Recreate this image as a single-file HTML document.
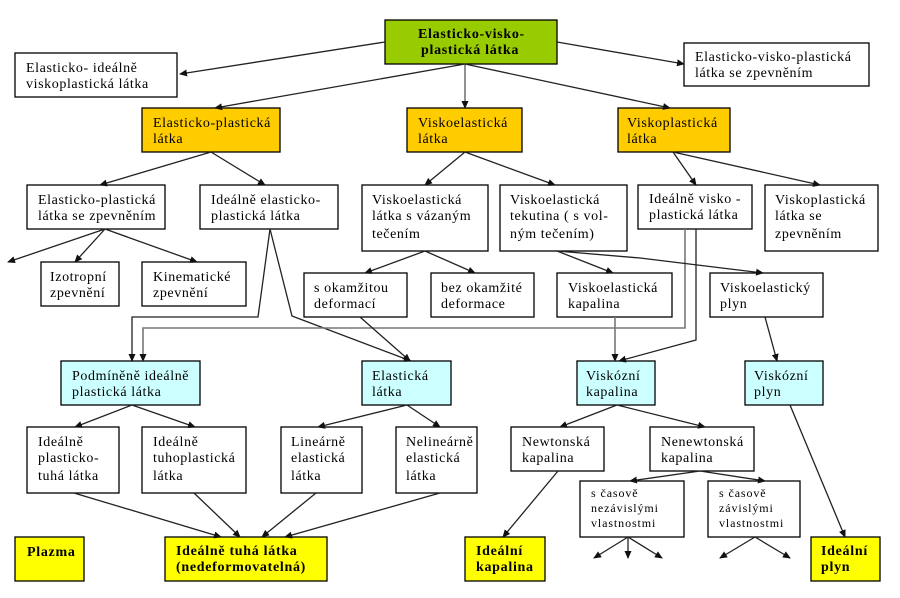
<!DOCTYPE html>
<html><head><meta charset="utf-8"><style>
body{margin:0;background:#fff;}
svg{display:block}
text{font-family:"Liberation Serif",serif;font-size:14px;letter-spacing:0.6px;fill:#000}
.b{font-weight:bold;letter-spacing:0.7px}
.s{font-size:12px;letter-spacing:0.9px}
rect{stroke:#000;stroke-width:1.3}
line,polyline{stroke:#222;stroke-width:1.3;fill:none}
.g{stroke:#777;stroke-width:1.6}
</style></head><body>
<svg width="900" height="598" viewBox="0 0 900 598">
<defs><marker id="a" markerWidth="8" markerHeight="8" refX="7" refY="4" orient="auto" markerUnits="userSpaceOnUse"><path d="M0,0.5 L8,4 L0,7.5z" fill="#111"/></marker></defs>
<g fill="#fff">
<rect x="385" y="20" width="172" height="44" fill="#99cc00"/>
<rect x="15" y="53" width="162" height="44" fill="#fff"/>
<rect x="684" y="43" width="185" height="43" fill="#fff"/>
<rect x="142" y="108" width="138" height="44" fill="#ffcc00"/>
<rect x="407" y="108" width="115" height="44" fill="#ffcc00"/>
<rect x="618" y="108" width="112" height="44" fill="#ffcc00"/>
<rect x="27" y="185" width="138" height="44" fill="#fff"/>
<rect x="200" y="185" width="138" height="44" fill="#fff"/>
<rect x="362" y="185" width="126" height="66" fill="#fff"/>
<rect x="500" y="185" width="127" height="66" fill="#fff"/>
<rect x="638" y="185" width="114" height="44" fill="#fff"/>
<rect x="765" y="185" width="113" height="66" fill="#fff"/>
<rect x="41" y="262" width="78" height="44" fill="#fff"/>
<rect x="142" y="262" width="104" height="44" fill="#fff"/>
<rect x="304" y="273" width="103" height="44" fill="#fff"/>
<rect x="431" y="273" width="103" height="44" fill="#fff"/>
<rect x="557" y="273" width="115" height="44" fill="#fff"/>
<rect x="710" y="273" width="113" height="44" fill="#fff"/>
<rect x="61" y="361" width="139" height="44" fill="#ccffff"/>
<rect x="362" y="361" width="89" height="44" fill="#ccffff"/>
<rect x="577" y="361" width="78" height="44" fill="#ccffff"/>
<rect x="745" y="361" width="78" height="44" fill="#ccffff"/>
<rect x="27" y="427" width="92" height="66" fill="#fff"/>
<rect x="142" y="427" width="104" height="66" fill="#fff"/>
<rect x="281" y="427" width="81" height="66" fill="#fff"/>
<rect x="396" y="427" width="81" height="66" fill="#fff"/>
<rect x="511" y="427" width="93" height="44" fill="#fff"/>
<rect x="650" y="427" width="104" height="44" fill="#fff"/>
<rect x="580" y="481" width="104" height="56" fill="#fff"/>
<rect x="708" y="481" width="92" height="56" fill="#fff"/>
<rect x="15" y="537" width="69" height="44" fill="#ffff00"/>
<rect x="165" y="537" width="162" height="44" fill="#ffff00"/>
<rect x="465" y="537" width="80" height="44" fill="#ffff00"/>
<rect x="811" y="537" width="69" height="44" fill="#ffff00"/>
</g>
<g marker-end="url(#a)">
<line class="g" x1="465" y1="64" x2="465" y2="108"/>
<line x1="385" y1="42" x2="180" y2="74"/>
<line x1="465" y1="64" x2="215" y2="108"/>
<line x1="557" y1="42" x2="684" y2="64"/>
<line x1="465" y1="64" x2="670" y2="108"/>
<line x1="211" y1="152" x2="100" y2="185"/>
<line x1="211" y1="152" x2="265" y2="185"/>
<line x1="465" y1="152" x2="425" y2="185"/>
<line x1="465" y1="152" x2="555" y2="185"/>
<line x1="673" y1="152" x2="696" y2="185"/>
<line x1="673" y1="152" x2="820" y2="185"/>
<line x1="105" y1="229" x2="8" y2="262"/>
<line x1="105" y1="229" x2="75" y2="262"/>
<line x1="105" y1="229" x2="197" y2="262"/>
<polyline points="270,229 258,317 132,317 132,361"/>
<polyline points="270,229 292,316 411,361"/>
<polyline class="g" points="685,229 685,328 143,328 143,361"/>
<polyline points="696,229 696,340 619,361"/>
<line x1="360" y1="317" x2="410" y2="361"/>
<line x1="425" y1="251" x2="365" y2="273"/>
<line x1="425" y1="251" x2="475" y2="273"/>
<line x1="557" y1="251" x2="613" y2="273"/>
<polyline points="557,251 640,258 763,273"/>
<line class="g" x1="615" y1="317" x2="615" y2="361"/>
<line x1="765" y1="317" x2="777" y2="361"/>
<line x1="132" y1="405" x2="75" y2="427"/>
<line x1="132" y1="405" x2="195" y2="427"/>
<line x1="407" y1="405" x2="318" y2="427"/>
<line x1="407" y1="405" x2="440" y2="427"/>
<line x1="617" y1="405" x2="560" y2="427"/>
<line x1="617" y1="405" x2="705" y2="427"/>
<line x1="790" y1="405" x2="845" y2="537"/>
<line x1="558" y1="471" x2="503" y2="537"/>
<line x1="700" y1="471" x2="630" y2="481"/>
<line x1="700" y1="471" x2="765" y2="481"/>
<line x1="628" y1="537" x2="594" y2="558"/>
<line x1="628" y1="537" x2="628" y2="558"/>
<line x1="628" y1="537" x2="662" y2="558"/>
<line x1="755" y1="537" x2="720" y2="558"/>
<line x1="755" y1="537" x2="790" y2="558"/>
<line x1="74" y1="493" x2="221" y2="537"/>
<line x1="194" y1="493" x2="240" y2="537"/>
<line x1="316" y1="493" x2="262" y2="537"/>
<line x1="440" y1="493" x2="285" y2="537"/>
</g>
<text class="b" x="418" y="38">Elasticko-visko-</text><text class="b" x="421" y="54">plastická látka</text>
<text x="26" y="72">Elasticko- ideálně</text><text x="26" y="88">viskoplastická látka</text>
<text x="695" y="61">Elasticko-visko-plastická</text><text x="695" y="77">látka se zpevněním</text>
<text x="153" y="127">Elasticko-plastická</text><text x="153" y="143">látka</text>
<text x="418" y="127">Viskoelastická</text><text x="418" y="143">látka</text>
<text x="627" y="127">Viskoplastická</text><text x="627" y="143">látka</text>
<text x="38" y="204">Elasticko-plastická</text><text x="38" y="220">látka se zpevněním</text>
<text x="211" y="204">Ideálně elasticko-</text><text x="211" y="220">plastická látka</text>
<text x="372" y="204">Viskoelastická</text><text x="372" y="220">látka s vázaným</text><text x="372" y="238">tečením</text>
<text x="510" y="204">Viskoelastická</text><text x="510" y="220">tekutina ( s vol-</text><text x="510" y="238">ným tečením)</text>
<text x="649" y="203">Ideálně visko -</text><text x="649" y="219">plastická látka</text>
<text x="775" y="204">Viskoplastická</text><text x="775" y="220">látka se</text><text x="775" y="238">zpevněním</text>
<text x="50" y="281">Izotropní</text><text x="50" y="297">zpevnění</text>
<text x="153" y="281">Kinematické</text><text x="153" y="297">zpevnění</text>
<text x="314" y="292">s okamžitou</text><text x="314" y="308">deformací</text>
<text x="441" y="292">bez okamžité</text><text x="441" y="308">deformace</text>
<text x="568" y="292">Viskoelastická</text><text x="568" y="308">kapalina</text>
<text x="720" y="292">Viskoelastický</text><text x="720" y="308">plyn</text>
<text x="72" y="380">Podmíněně ideálně</text><text x="72" y="396">plastická látka</text>
<text x="372" y="380">Elastická</text><text x="372" y="396">látka</text>
<text x="586" y="380">Viskózní</text><text x="586" y="396">kapalina</text>
<text x="754" y="380">Viskózní</text><text x="754" y="396">plyn</text>
<text x="38" y="446">Ideálně</text><text x="38" y="462">plasticko-</text><text x="38" y="480">tuhá látka</text>
<text x="153" y="446">Ideálně</text><text x="153" y="462">tuhoplastická</text><text x="153" y="480">látka</text>
<text x="291" y="446">Lineárně</text><text x="291" y="462">elastická</text><text x="291" y="480">látka</text>
<text x="406" y="446">Nelineárně</text><text x="406" y="462">elastická</text><text x="406" y="480">látka</text>
<text x="522" y="446">Newtonská</text><text x="522" y="462">kapalina</text>
<text x="661" y="446">Nenewtonská</text><text x="661" y="462">kapalina</text>
<text class="s" x="591" y="497">s časově</text><text class="s" x="591" y="512">nezávislými</text><text class="s" x="591" y="527">vlastnostmi</text>
<text class="s" x="719" y="497">s časově</text><text class="s" x="719" y="512">závislými</text><text class="s" x="719" y="527">vlastnostmi</text>
<text class="b" x="27" y="556">Plazma</text>
<text class="b" x="176" y="555">Ideálně tuhá látka</text><text class="b" x="176" y="571">(nedeformovatelná)</text>
<text class="b" x="476" y="555">Ideální</text><text class="b" x="476" y="571">kapalina</text>
<text class="b" x="821" y="555">Ideální</text><text class="b" x="821" y="571">plyn</text>
</svg>
</body></html>
